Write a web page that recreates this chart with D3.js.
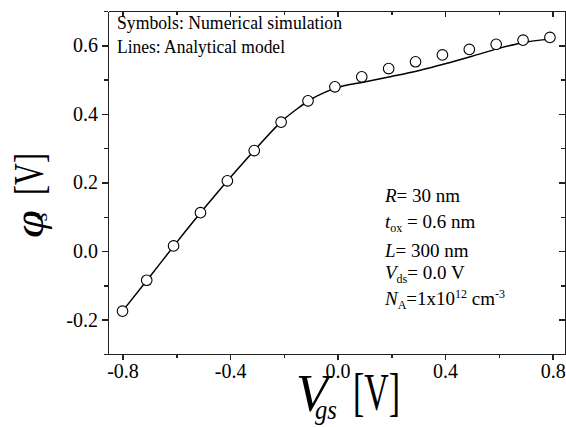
<!DOCTYPE html>
<html>
<head>
<meta charset="utf-8">
<script src="https://d3js.org/d3.v7.min.js"></script>
<style>
  body { margin: 0; background: #fff; }
  svg { display: block; }
  .axis path, .axis line { stroke: #222; stroke-width: 1.5; shape-rendering: crispEdges; }
</style>
</head>
<body>
<svg id="chart" width="566" height="427"></svg>
<script>
var FONT = "'Liberation Serif', 'Times New Roman', Times, serif";

// simulation points (symbols)
var simX = [-0.80, -0.71, -0.61, -0.51, -0.41, -0.31, -0.21, -0.11, -0.01,
            0.09, 0.19, 0.29, 0.39, 0.49, 0.59, 0.69, 0.79];
var simY = [-0.175, -0.085, 0.015, 0.112, 0.205, 0.293, 0.376, 0.438, 0.479,
            0.508, 0.532, 0.552, 0.572, 0.588, 0.603, 0.615, 0.623];

// analytical model (line)
var modelX = [-0.80, -0.70, -0.60, -0.50, -0.40, -0.30, -0.20, -0.15, -0.10, -0.05,
              0.00, 0.10, 0.20, 0.30, 0.40, 0.50, 0.60, 0.70, 0.79];
var modelY = [-0.175, -0.076, 0.024, 0.121, 0.214, 0.302, 0.384, 0.415, 0.442, 0.462,
              0.477, 0.493, 0.509, 0.526, 0.546, 0.568, 0.591, 0.609, 0.618];

var xMajor = [-0.8, -0.4, 0.0, 0.4, 0.8];
var xMinor = [-0.6, -0.2, 0.2, 0.6];
var yMajor = [-0.2, 0.0, 0.2, 0.4, 0.6];
var yMinor = [-0.3, -0.1, 0.1, 0.3, 0.5, 0.7];

var margin = { top: 11, right: 1, bottom: 73, left: 108 };
var W = 566, H = 427;
var width = W - margin.left - margin.right,
    height = H - margin.top - margin.bottom;

var svg = d3.select("#chart");
var g = svg.append("g").attr("transform", "translate(" + margin.left + "," + margin.top + ")");

var x = d3.scaleLinear().domain([-0.854, 0.846]).range([0, width]);
var y = d3.scaleLinear().domain([-0.3, 0.7]).range([height, 0]);

var fmt = function(d) { return d.toFixed(1); };

function axisGroup(tr) {
    return g.append("g").attr("class", "axis").attr("transform", tr || null);
}

// bottom
axisGroup("translate(0," + height + ")")
    .call(d3.axisBottom(x).tickValues(xMajor).tickFormat(fmt).tickSize(6).tickSizeOuter(0).tickPadding(4));
axisGroup("translate(0," + height + ")")
    .call(d3.axisBottom(x).tickValues(xMinor).tickFormat("").tickSize(4).tickSizeOuter(0));
// left
axisGroup()
    .call(d3.axisLeft(y).tickValues(yMajor).tickFormat(fmt).tickSize(6).tickSizeOuter(0).tickPadding(4));
axisGroup()
    .call(d3.axisLeft(y).tickValues(yMinor).tickFormat("").tickSize(4).tickSizeOuter(0));
// top (ticks inward)
axisGroup()
    .call(d3.axisTop(x).tickValues(xMajor).tickFormat("").tickSize(-6).tickSizeOuter(0));
axisGroup()
    .call(d3.axisTop(x).tickValues(xMinor).tickFormat("").tickSize(-4).tickSizeOuter(0));
// right (ticks inward)
axisGroup("translate(" + width + ",0)")
    .call(d3.axisRight(y).tickValues(yMajor).tickFormat("").tickSize(-6).tickSizeOuter(0));
axisGroup("translate(" + width + ",0)")
    .call(d3.axisRight(y).tickValues(yMinor).tickFormat("").tickSize(-4).tickSizeOuter(0));

g.selectAll(".axis").attr("font-family", null).attr("font-size", null);
g.selectAll(".axis text")
    .style("font-family", FONT)
    .style("font-size", "20px")
    .style("fill", "#000");

// model line
var line = d3.line()
    .x(function(d, i) { return x(modelX[i]); })
    .y(function(d, i) { return y(modelY[i]); })
    .curve(d3.curveMonotoneX);
g.append("path").datum(modelY)
    .attr("d", line)
    .attr("fill", "none")
    .attr("stroke", "#000")
    .attr("stroke-width", 1.5);

// symbols
g.selectAll("circle.sim").data(simY).enter().append("circle")
    .attr("class", "sim")
    .attr("cx", function(d, i) { return x(simX[i]); })
    .attr("cy", function(d) { return y(d); })
    .attr("r", 5.3)
    .attr("fill", "#fff")
    .attr("stroke", "#000")
    .attr("stroke-width", 1.1);

function txt(parent) {
    return parent.append("text").style("font-family", FONT).attr("fill", "#000");
}

// notes at top left
txt(svg).attr("x", 117).attr("y", 29).attr("font-size", 19)
    .attr("textLength", 225).attr("lengthAdjust", "spacingAndGlyphs")
    .text("Symbols: Numerical simulation");
txt(svg).attr("x", 117).attr("y", 53).attr("font-size", 19)
    .attr("textLength", 168).attr("lengthAdjust", "spacingAndGlyphs")
    .text("Lines: Analytical model");

// parameter block
function note(yy, parts) {
    var t = txt(svg).attr("x", 385).attr("y", yy).attr("font-size", 19);
    parts.forEach(function(p) {
        var s = t.append("tspan").text(p.t);
        if (p.i) s.attr("font-style", "italic");
        if (p.sub) s.attr("font-size", 12).attr("baseline-shift", "-30%");
        if (p.sup) s.attr("font-size", 12).attr("baseline-shift", "55%");
    });
}
note(201.5, [{t: "R", i: 1}, {t: "= 30 nm"}]);
note(228, [{t: "t", i: 1}, {t: "ox", sub: 1}, {t: " = 0.6 nm"}]);
note(256.5, [{t: "L", i: 1}, {t: "= 300 nm"}]);
note(278.5, [{t: "V", i: 1}, {t: "ds", sub: 1}, {t: "= 0.0 V"}]);
note(305, [{t: "N", i: 1}, {t: "A", sub: 1}, {t: "=1x10"}, {t: "12", sup: 1}, {t: " cm"}, {t: "-3", sup: 1}]);

// x title
txt(svg).attr("x", 296).attr("y", 411).attr("font-size", 52).attr("font-style", "italic")
    .attr("textLength", 32).attr("lengthAdjust", "spacingAndGlyphs").text("V");
txt(svg).attr("x", 315).attr("y", 419).attr("font-size", 27).attr("font-style", "italic")
    .attr("textLength", 22).attr("lengthAdjust", "spacingAndGlyphs").text("gs");
txt(svg).attr("x", 353).attr("y", 410).attr("font-size", 52)
    .attr("textLength", 47).attr("lengthAdjust", "spacingAndGlyphs").text("[V]");

// y title (rotated)
var yt = svg.append("g").attr("transform", "translate(43,0) rotate(-90)");
txt(yt).attr("x", -238).attr("y", 0).attr("font-size", 42).attr("font-style", "italic")
    .attr("textLength", 28).attr("lengthAdjust", "spacingAndGlyphs").text("\u03c6");
txt(yt).attr("x", -221).attr("y", 4).attr("font-size", 22).attr("font-style", "italic")
    .text("s");
txt(yt).attr("x", -195).attr("y", 0).attr("font-size", 42)
    .attr("textLength", 42).attr("lengthAdjust", "spacingAndGlyphs").text("[V]");
</script>
</body>
</html>
